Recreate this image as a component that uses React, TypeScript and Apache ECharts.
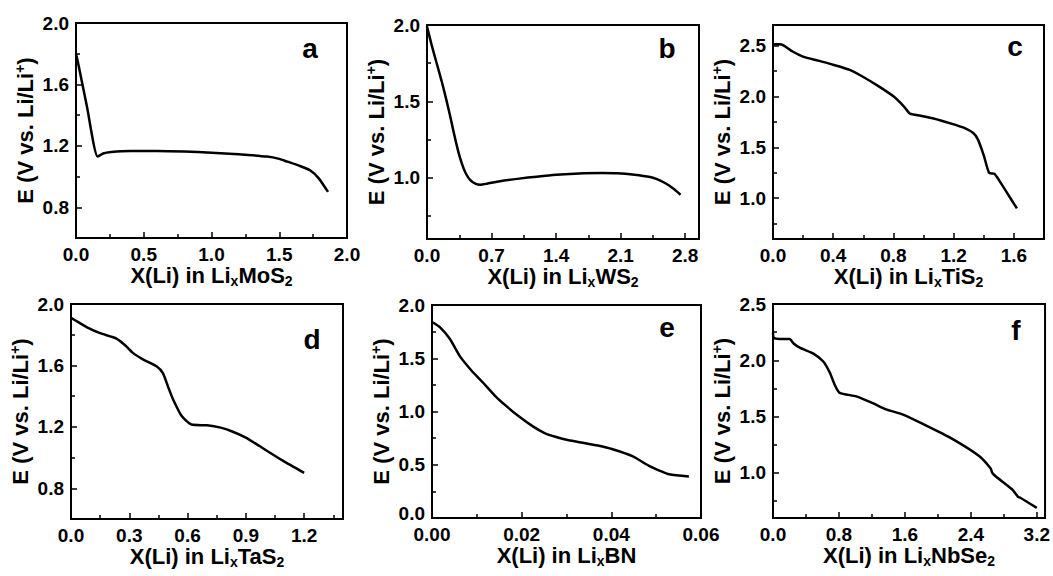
import React, { useEffect, useRef } from 'react';
import * as echarts from 'echarts';

const FONT = '"Liberation Sans", Arial, sans-serif';

// ---- data (x = X(Li), y = E in V vs Li/Li+) ----
const mos2Data = [[0, 1.80], [0.02, 1.72], [0.08, 1.46], [0.16, 1.13], [0.2, 1.15], [0.26, 1.16], [0.4, 1.167], [0.6, 1.167], [0.8, 1.163], [1.0, 1.155], [1.2, 1.145], [1.41, 1.13], [1.5, 1.115], [1.56, 1.097], [1.65, 1.07], [1.73, 1.04], [1.79, 0.99], [1.86, 0.9]];
const ws2Data = [[0, 1.99], [0.05, 1.87], [0.105, 1.75], [0.16, 1.63], [0.21, 1.51], [0.26, 1.38], [0.3, 1.27], [0.34, 1.17], [0.38, 1.09], [0.42, 1.03], [0.47, 0.985], [0.53, 0.96], [0.58, 0.955], [0.65, 0.962], [0.79, 0.978], [1.0, 0.995], [1.19, 1.008], [1.4, 1.02], [1.7, 1.03], [1.9, 1.032], [2.06, 1.03], [2.25, 1.02], [2.42, 1.005], [2.5, 0.99], [2.6, 0.96], [2.67, 0.93], [2.75, 0.89]];
const tis2Data = [[0, 2.51], [0.04, 2.51], [0.07, 2.5], [0.13, 2.44], [0.2, 2.39], [0.3, 2.35], [0.4, 2.31], [0.51, 2.26], [0.6, 2.19], [0.7, 2.1], [0.8, 2.0], [0.87, 1.9], [0.91, 1.83], [0.98, 1.81], [1.06, 1.785], [1.19, 1.73], [1.27, 1.69], [1.33, 1.64], [1.36, 1.58], [1.4, 1.42], [1.435, 1.25], [1.47, 1.24], [1.5, 1.18], [1.56, 1.04], [1.62, 0.9]];
const tas2Data = [[0, 1.91], [0.04, 1.88], [0.08, 1.85], [0.15, 1.81], [0.234, 1.775], [0.28, 1.73], [0.32, 1.68], [0.37, 1.64], [0.44, 1.595], [0.473, 1.55], [0.5, 1.46], [0.525, 1.38], [0.57, 1.27], [0.62, 1.215], [0.7, 1.21], [0.77, 1.195], [0.83, 1.17], [0.9, 1.13], [0.97, 1.075], [1.09, 0.98], [1.2, 0.9]];
const bnData = [[0, 1.84], [0.0018, 1.79], [0.004, 1.68], [0.0062, 1.52], [0.0087, 1.39], [0.0114, 1.27], [0.014, 1.15], [0.0166, 1.05], [0.0195, 0.95], [0.0225, 0.86], [0.025, 0.8], [0.0277, 0.76], [0.0305, 0.73], [0.0336, 0.707], [0.037, 0.68], [0.0403, 0.645], [0.0447, 0.58], [0.0484, 0.49], [0.051, 0.44], [0.0529, 0.41], [0.0573, 0.39]];
const nbse2Data = [[0, 2.245], [0.01, 2.2], [0.08, 2.19], [0.2, 2.19], [0.25, 2.15], [0.33, 2.11], [0.49, 2.06], [0.61, 1.99], [0.69, 1.89], [0.75, 1.78], [0.81, 1.71], [1.01, 1.68], [1.21, 1.62], [1.37, 1.565], [1.57, 1.52], [1.86, 1.42], [2.18, 1.3], [2.5, 1.15], [2.64, 1.04], [2.66, 1.0], [2.7, 0.97], [2.9, 0.855], [2.97, 0.79], [3.0, 0.78], [3.2, 0.69]];

// ---- ticks ----
const xMajorA = [0, 0.5, 1.0, 1.5, 2.0];
const xMinorA = [0.25, 0.75, 1.25, 1.75];
const yMajorA = [0.8, 1.2, 1.6, 2.0];
const yMinorA = [0.6, 1.0, 1.4, 1.8];

const xMajorB = [0, 0.7, 1.4, 2.1, 2.8];
const xMinorB = [0.35, 1.05, 1.75, 2.45];
const yMajorB = [1.0, 1.5, 2.0];
const yMinorB = [0.75, 1.25, 1.75];

const xMajorC = [0, 0.4, 0.8, 1.2, 1.6];
const xMinorC = [0.2, 0.6, 1.0, 1.4];
const yMajorC = [1.0, 1.5, 2.0, 2.5];
const yMinorC = [0.75, 1.25, 1.75, 2.25];

const xMajorD = [0, 0.3, 0.6, 0.9, 1.2];
const xMinorD = [0.15, 0.45, 0.75, 1.05, 1.35];
const yMajorD = [0.8, 1.2, 1.6, 2.0];
const yMinorD = [1.0, 1.4, 1.8];

const xMajorE = [0, 0.02, 0.04, 0.06];
const xMinorE = [0.01, 0.03, 0.05];
const yMajorE = [0, 0.5, 1.0, 1.5, 2.0];
const yMinorE = [0.25, 0.75, 1.25, 1.75];

const xMajorF = [0, 0.8, 1.6, 2.4, 3.2];
const xMinorF = [0.4, 1.2, 2.0, 2.8];
const yMajorF = [1.0, 1.5, 2.0, 2.5];
const yMinorF = [0.75, 1.25, 1.75, 2.25];

const letters = ['a', 'b', 'c', 'd', 'e', 'f'];
const compounds = ['MoS{sub|2}', 'WS{sub|2}', 'TiS{sub|2}', 'TaS{sub|2}', 'BN', 'NbSe{sub|2}'];

const panels = [
  { data: mos2Data, grid: { left: 76, top: 23, width: 271, height: 215 }, x: [0, 2.0, 1], y: [0.6, 2.0, 1], xMaj: xMajorA, xMin: xMinorA, yMaj: yMajorA, yMin: yMinorA, pos: [310, 48] },
  { data: ws2Data, grid: { left: 427, top: 25, width: 272, height: 214 }, x: [0, 2.95, 1], y: [0.6, 2.0, 1], xMaj: xMajorB, xMin: xMinorB, yMaj: yMajorB, yMin: yMinorB, pos: [667, 48] },
  { data: tis2Data, grid: { left: 773, top: 25, width: 271, height: 214 }, x: [0, 1.8, 1], y: [0.6, 2.7, 1], xMaj: xMajorC, xMin: xMinorC, yMaj: yMajorC, yMin: yMinorC, pos: [1015, 46] },
  { data: tas2Data, grid: { left: 71, top: 304, width: 272, height: 215 }, x: [0, 1.4, 1], y: [0.6, 2.0, 1], xMaj: xMajorD, xMin: xMinorD, yMaj: yMajorD, yMin: yMinorD, pos: [312, 339] },
  { data: bnData, grid: { left: 432, top: 305, width: 269, height: 213 }, x: [0, 0.06, 2], y: [0, 2.0, 1], xMaj: xMajorE, xMin: xMinorE, yMaj: yMajorE, yMin: yMinorE, pos: [667, 327] },
  { data: nbse2Data, grid: { left: 773, top: 304, width: 275, height: 214 }, x: [0, 3.3, 1], y: [0.6, 2.5, 1], xMaj: xMajorF, xMin: xMinorF, yMaj: yMajorF, yMin: yMinorF, pos: [1016, 330] },
];

const labelStyle = { color: '#000', fontSize: 19, fontWeight: 'bold' as const, fontFamily: FONT };
const tickLine = { color: '#000', width: 1.5 };
const NAME_SIZE = 22;

export default function App() {
  const ref = useRef<HTMLDivElement>(null);
  useEffect(() => {
    if (!ref.current) return;
    const chart = echarts.init(ref.current, undefined, { renderer: 'svg' });
    const grids: any[] = [];
    const xAxes: any[] = [];
    const yAxes: any[] = [];
    const series: any[] = [];
    const graphics: any[] = [];
    panels.forEach((p, i) => {
      grids.push({ ...p.grid, show: true, borderColor: '#000', borderWidth: 2, backgroundColor: 'transparent', containLabel: false });
      xAxes.push({
        type: 'value', gridIndex: i, min: p.x[0], max: p.x[1], position: 'bottom',
        axisLine: { show: true, onZero: false, lineStyle: { color: '#000', width: 2 } },
        axisTick: { show: true, inside: true, length: 6, lineStyle: tickLine, customValues: p.xMaj },
        axisLabel: { ...labelStyle, margin: 7, customValues: p.xMaj, formatter: (v: number) => v.toFixed(p.x[2]) },
        splitLine: { show: false },
        name: 'X(Li) in Li{sub|x}' + compounds[i], nameLocation: 'middle', nameGap: 22,
        nameTextStyle: {
          color: '#000', fontSize: NAME_SIZE, fontWeight: 'bold', fontFamily: FONT,
          rich: { sub: { color: '#000', fontSize: 14, fontWeight: 'bold', fontFamily: FONT, verticalAlign: 'bottom', padding: [11, 0, 0, 0] } },
        },
      });
      xAxes.push({
        type: 'value', gridIndex: i, min: p.x[0], max: p.x[1], position: 'bottom',
        axisLine: { show: false },
        axisTick: { show: true, inside: true, length: 4, lineStyle: tickLine, customValues: p.xMin },
        axisLabel: { show: false }, splitLine: { show: false },
      });
      yAxes.push({
        type: 'value', gridIndex: i, min: p.y[0], max: p.y[1], position: 'left',
        axisLine: { show: true, onZero: false, lineStyle: { color: '#000', width: 2 } },
        axisTick: { show: true, inside: true, length: 6, lineStyle: tickLine, customValues: p.yMaj },
        axisLabel: {
          ...labelStyle, margin: 7, customValues: p.yMaj,
          formatter: (v: number) => (v === p.y[0] ? '{lo|' + v.toFixed(p.y[2]) + '}' : v.toFixed(p.y[2])),
          rich: { lo: { ...labelStyle, padding: [0, 0, 10, 0] } },
        },
        splitLine: { show: false },
        name: 'E (V vs. Li/Li{sup|+})', nameLocation: 'middle', nameGap: 38,
        nameTextStyle: {
          color: '#000', fontSize: NAME_SIZE, fontWeight: 'bold', fontFamily: FONT,
          rich: { sup: { color: '#000', fontSize: 14, fontWeight: 'bold', fontFamily: FONT, verticalAlign: 'top', padding: [0, 0, 11, 0] } },
        },
      });
      yAxes.push({
        type: 'value', gridIndex: i, min: p.y[0], max: p.y[1], position: 'left',
        axisLine: { show: false },
        axisTick: { show: true, inside: true, length: 4, lineStyle: tickLine, customValues: p.yMin },
        axisLabel: { show: false }, splitLine: { show: false },
      });
      series.push({
        type: 'line', xAxisIndex: 2 * i, yAxisIndex: 2 * i, data: p.data,
        showSymbol: false, smooth: 0.2, lineStyle: { color: '#000', width: 2.5 },
      });
      graphics.push({
        type: 'text', x: p.pos[0], y: p.pos[1],
        style: { text: letters[i], fill: '#000', fontSize: 28, fontWeight: 'bold', fontFamily: FONT, align: 'center', verticalAlign: 'middle' },
      });
    });
    chart.setOption({
      animation: false,
      backgroundColor: '#fff',
      grid: grids, xAxis: xAxes, yAxis: yAxes, series, graphic: graphics,
    });
    return () => chart.dispose();
  }, []);
  return <div ref={ref} style={{ position: 'absolute', left: 0, top: 0, width: 1053, height: 576 }} />;
}
